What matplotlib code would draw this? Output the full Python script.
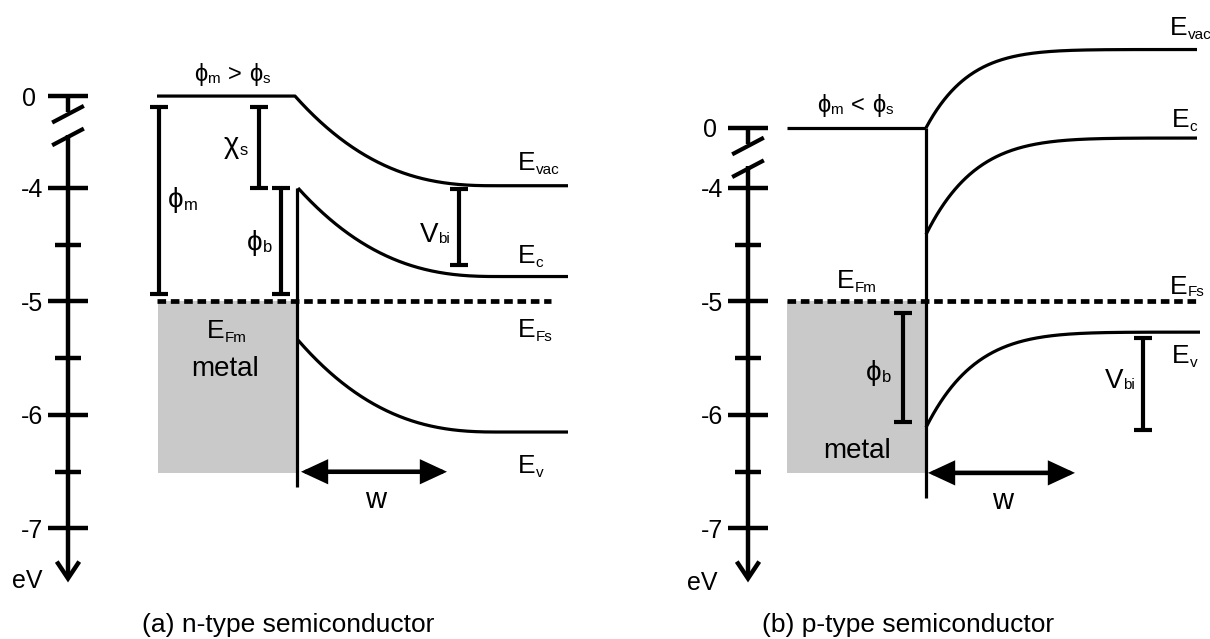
import numpy as np
import matplotlib.pyplot as plt
from matplotlib.patches import Rectangle, FancyArrowPatch
from matplotlib.transforms import offset_copy

plt.rcParams['font.family'] = ['Liberation Sans', 'DejaVu Sans']
plt.rcParams['lines.scale_dashes'] = False

# eV axis ticks
tick_major = [-4, -5, -6, -7]
tick_minor = [-4.5, -5.5, -6.5]
tick_labels = ['-4', '-5', '-6', '-7']
E_F = -5.0
metal_bottom = -6.51

# (a) n-type: drawn height of the 0 eV level, band edges as (surface, bulk)
zero_a = -3.19
evac_a = (zero_a, -3.98)
ec_a = (-4.00, -4.78)
ev_a = (-5.34, -6.15)
phi_m_a = (-3.29, -4.93)
chi_s_a = (-3.29, -4.00)
phi_b_a = (-4.00, -4.93)
vbi_a = (-4.01, -4.68)

# (b) p-type
zero_b = -3.47
evac_b = (zero_b, -2.78)
ec_b = (-4.41, -3.56)
ev_b = (-6.11, -5.27)
phi_b_b = (-5.10, -6.06)
vbi_b = (-5.32, -6.13)

PHI = '\u03d5'
LW = 2.3
fig = plt.figure(figsize=(12.1, 6.39), dpi=100)
ax = fig.add_axes([0, 0, 1, 1])
ax.set_xlim(0, 1210)
ax.set_ylim(-7.9736, -2.3436)
ax.axis('off')
PX = 1 / 113.5  # one pixel in eV


def band(x0, x1, levels, w, p, lead=None):
    # bent band: surface value at x0 relaxing to the bulk value
    xs = np.linspace(x0, x1, 300)
    s = np.clip((xs - x0) / w, 0, 1)
    surf, bulk = levels
    ys = bulk + (surf - bulk) * (1 - s) ** p
    if lead is not None:
        xs = np.r_[lead, xs]
        ys = np.r_[surf, ys]
    ax.plot(xs, ys, color='k', lw=LW, solid_capstyle='butt')


def bracket(x, span, half=9):
    top, bot = span
    kw = dict(color='k', lw=3.0, solid_capstyle='butt')
    ax.plot([x, x], [top, bot], **kw)
    ax.plot([x - half, x + half], [top, top], **kw)
    ax.plot([x - half, x + half], [bot, bot], **kw)


def rich(x, y, parts, size=19, sub_size=11, drop=4, ha='left'):
    # base text with subscripts; strings starting with "_" are subscripts,
    # numbers are extra gaps in pixels
    r = fig.canvas.get_renderer()
    items = []
    for p in parts:
        if isinstance(p, (int, float)):
            items.append((None, p, False))
            continue
        sub = p.startswith('_')
        t = ax.text(x, y, p[1:] if sub else p, fontsize=sub_size if sub else size,
                    va='baseline', ha='left')
        items.append((t, t.get_window_extent(r).width, sub))
    total = sum(w for _, w, _ in items)
    dx = -total / 2 if ha == 'center' else 0
    for t, w, sub in items:
        if t is not None:
            t.set_transform(offset_copy(ax.transData, fig=fig, x=dx,
                                        y=-drop if sub else 0, units='dots'))
        dx += w


def energy_axis(x, zero, zero_lx, lx):
    kw = dict(color='k', lw=3.2, solid_capstyle='butt')
    # 0 eV tick and axis break
    ax.plot([x - 20, x + 20], [zero, zero], **kw)
    ax.plot([x, x], [zero, zero - 0.14], **kw)
    for c in (zero - 0.16, zero - 0.36):
        ax.plot([x - 14, x + 14], [c - 0.065, c + 0.065], color='k', lw=3.0)
    ax.text(zero_lx, zero, '0', fontsize=18, ha='right', va='center_baseline')
    tip = -7.44
    ax.plot([x, x], [zero - 0.34, tip + 0.02], **kw)
    ax.plot([x - 10, x, x + 10], [tip + 15 * PX, tip, tip + 15 * PX],
            color='k', lw=3.2, solid_joinstyle='miter')
    for v, lab in zip(tick_major, tick_labels):
        ax.plot([x - 20, x + 20], [v, v], **kw)
        ax.text(lx, v, lab, fontsize=18, ha='right', va='center_baseline')
    for v in tick_minor:
        ax.plot([x - 13, x + 13], [v, v], **kw)


def fermi(x0, x1):
    ax.plot([x0, x1], [E_F, E_F], color='k', lw=3.4, dashes=(6.2, 3.4),
            dash_capstyle='butt', zorder=4)


def w_arrow(x0, x1, y):
    ax.add_patch(FancyArrowPatch((x0, y), (x1, y), arrowstyle='<|-|>,head_length=1.4,head_width=0.65',
                                 mutation_scale=10, lw=3.3, color='k',
                                 shrinkA=0, shrinkB=0, joinstyle='miter'))


# ---------------- (a) n-type semiconductor ----------------
energy_axis(68, zero_a, 36, 43)
ax.add_patch(Rectangle((158, metal_bottom), 297 - 158, E_F - metal_bottom,
                       facecolor='#c9c9c9', edgecolor='none', zorder=1))
fermi(157, 551)
band(295, 568, evac_a, 200, 2.5, lead=157)
band(298, 568, ec_a, 200, 2.5)
band(298, 568, ev_a, 200, 2.5)
ax.plot([297, 297], [ec_a[0], -6.63], color='k', lw=LW, solid_capstyle='butt', zorder=5)
bracket(159, phi_m_a)
bracket(259, chi_s_a)
bracket(281, phi_b_a)
bracket(459, vbi_a)
w_arrow(301, 447, -6.50)

rich(232, -3.06, [PHI, '_m', 8, '>', 8, PHI, '_s'], size=17, sub_size=11, drop=2, ha='center')
rich(168, -4.17, [PHI, '_m'], size=20, sub_size=12, drop=3)
rich(224, -3.69, ['χ', '_s'], size=21, sub_size=12, drop=2)
rich(247, -4.55, [PHI, '_b'], size=20, sub_size=12, drop=2)
rich(420, -4.48, ['V', '_bi'], size=20, sub_size=11, drop=1)
rich(518, -3.84, ['E', '_vac'])
rich(518, -4.66, ['E', '_c'])
rich(518, -5.31, ['E', '_Fs'])
rich(518, -6.51, ['E', '_v'])
rich(207, -5.32, ['E', '_Fm'])
ax.text(225, -5.66, 'metal', fontsize=20, ha='center', va='baseline')
ax.text(376, -6.82, 'w', fontsize=21, ha='center', va='baseline')
ax.text(12, -7.52, 'eV', fontsize=18, ha='left', va='baseline')
ax.text(142, -7.91, '(a) n-type semiconductor', fontsize=19, ha='left', va='baseline')

# ---------------- (b) p-type semiconductor ----------------
energy_axis(748, zero_b, 717, 723)
ax.add_patch(Rectangle((787, metal_bottom), 926 - 787, E_F - metal_bottom,
                       facecolor='#c9c9c9', edgecolor='none', zorder=1))
fermi(787, 1200)
ax.plot([787, 926], [zero_b, zero_b], color='k', lw=LW, solid_capstyle='butt')
band(926, 1197, evac_b, 336, 8)
band(926, 1197, ec_b, 336, 7)
band(926, 1200, ev_b, 336, 7)
ax.plot([926, 926], [zero_b, -6.73], color='k', lw=LW, solid_capstyle='butt', zorder=5)
bracket(903, phi_b_b)
bracket(1143, vbi_b)
w_arrow(928, 1075, -6.51)

rich(855, -3.33, [PHI, '_m', 8, '<', 8, PHI, '_s'], size=17, sub_size=11, drop=2, ha='center')
rich(866, -5.69, [PHI, '_b'], size=20, sub_size=12, drop=2)
rich(1105, -5.76, ['V', '_bi'], size=20, sub_size=11, drop=1)
rich(1172, -5.54, ['E', '_v'])
rich(1170, -4.93, ['E', '_Fs'], drop=2)
rich(1172, -3.46, ['E', '_c'])
rich(1170, -2.65, ['E', '_vac'])
rich(837, -4.88, ['E', '_Fm'])
ax.text(857, -6.38, 'metal', fontsize=20, ha='center', va='baseline')
ax.text(1003, -6.83, 'w', fontsize=21, ha='center', va='baseline')
ax.text(687, -7.54, 'eV', fontsize=18, ha='left', va='baseline')
ax.text(762, -7.91, '(b) p-type semiconductor', fontsize=19, ha='left', va='baseline')

fig.savefig('out.png', dpi=100)
